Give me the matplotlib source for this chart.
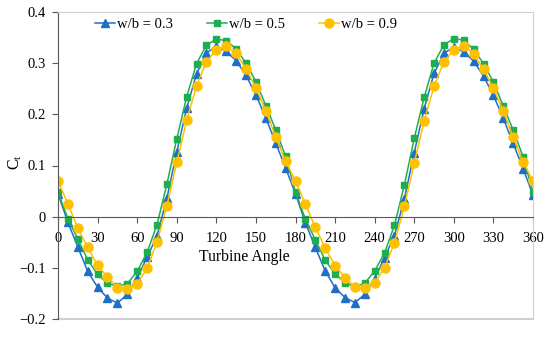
import numpy as np
import matplotlib
matplotlib.use("Agg")
import matplotlib.pyplot as plt

plt.rcParams["font.family"] = ["Liberation Serif", "DejaVu Serif"]
plt.rcParams["mathtext.fontset"] = "custom"
plt.rcParams["mathtext.rm"] = "Liberation Serif"
plt.rcParams["mathtext.it"] = "Liberation Serif"

angles = np.arange(0, 360.1, 7.5)

ct_03 = [0.045, -0.011, -0.059, -0.107, -0.138, -0.159, -0.169, -0.152, -0.120, -0.079,
         -0.038, 0.036, 0.126, 0.212, 0.279, 0.320, 0.333, 0.323, 0.305, 0.276,
         0.238, 0.193, 0.144, 0.095, 0.045,
         -0.012, -0.060, -0.106, -0.139, -0.158, -0.168, -0.152, -0.121, -0.080, -0.037,
         0.035, 0.125, 0.211, 0.280, 0.319, 0.332, 0.322, 0.304, 0.275, 0.237,
         0.192, 0.143, 0.094, 0.042]

ct_05 = [0.048, -0.004, -0.044, -0.084, -0.113, -0.130, -0.136, -0.131, -0.107, -0.070,
         -0.016, 0.063, 0.152, 0.234, 0.299, 0.335, 0.347, 0.344, 0.328, 0.300,
         0.264, 0.217, 0.170, 0.118, 0.048,
         -0.005, -0.045, -0.085, -0.112, -0.129, -0.137, -0.130, -0.106, -0.071, -0.017,
         0.062, 0.153, 0.233, 0.300, 0.336, 0.348, 0.345, 0.327, 0.299, 0.263,
         0.216, 0.169, 0.117, 0.048]

ct_09 = [0.070, 0.025, -0.022, -0.060, -0.095, -0.118, -0.139, -0.141, -0.131, -0.101,
         -0.050, 0.021, 0.106, 0.188, 0.256, 0.303, 0.326, 0.333, 0.319, 0.289,
         0.252, 0.207, 0.156, 0.108, 0.070,
         0.024, -0.021, -0.061, -0.096, -0.119, -0.138, -0.140, -0.130, -0.100, -0.051,
         0.020, 0.105, 0.187, 0.255, 0.303, 0.326, 0.334, 0.318, 0.288, 0.251,
         0.206, 0.155, 0.107, 0.070]

labels = ["w/b = 0.3", "w/b = 0.5", "w/b = 0.9"]
x_ticks = list(range(0, 361, 30))
y_ticks = [-0.2, -0.1, 0.0, 0.1, 0.2, 0.3, 0.4]

fig = plt.figure(figsize=(5.5, 3.39), dpi=100)
ax = fig.add_axes([58 / 550, 1 - 319 / 339, 475 / 550, 307 / 339])

ax.plot(angles, ct_03, color="#1f6fc6", lw=1.1, marker="^", ms=5.5, label=labels[0])
ax.plot(angles, ct_05, color="#1fae4f", lw=1.1, marker="s", ms=4.3, label=labels[1])
ax.plot(angles, ct_09, color="#ffc000", lw=1.1, marker="o", ms=6.5, label=labels[2])

ax.set_xlim(0, 360)
ax.set_ylim(-0.2, 0.4)
ax.set_xticks(x_ticks)
ax.set_yticks(y_ticks)
ax.set_yticklabels(["0" if v == 0 else f"{v:.1f}".replace("-", "\u2212") for v in y_ticks])

frame = "#d0d0d0"
dark = "#595959"
ax.spines["top"].set_color(frame)
ax.spines["right"].set_color(frame)
ax.spines["left"].set_color(dark)
ax.spines["bottom"].set_color(dark)
ax.spines["bottom"].set_position(("data", 0))
ax.axhline(-0.2, color=frame, lw=1.5, clip_on=False, zorder=0)

ax.tick_params(axis="x", direction="out", length=4, width=0.8, color=dark, pad=7, labelsize=10.5)
ax.tick_params(axis="y", direction="out", length=4, width=0.8, color=dark, pad=5, labelsize=10.5)

ax.text(141, -0.078, "Turbine Angle", ha="center", va="center", fontsize=11.3)
fig.text(15 / 550, 1 - 162 / 339, r"C$_\mathrm{t}$", rotation=90, ha="center", va="center", fontsize=11.5)

ax.legend(loc="center", bbox_to_anchor=(246 / 550, 1 - 24 / 339), bbox_transform=fig.transFigure,
          ncol=3, frameon=False, fontsize=10.5, handlelength=1.4, handletextpad=0.15,
          columnspacing=2.3, borderpad=0)

fig.savefig("out.png", dpi=100)
